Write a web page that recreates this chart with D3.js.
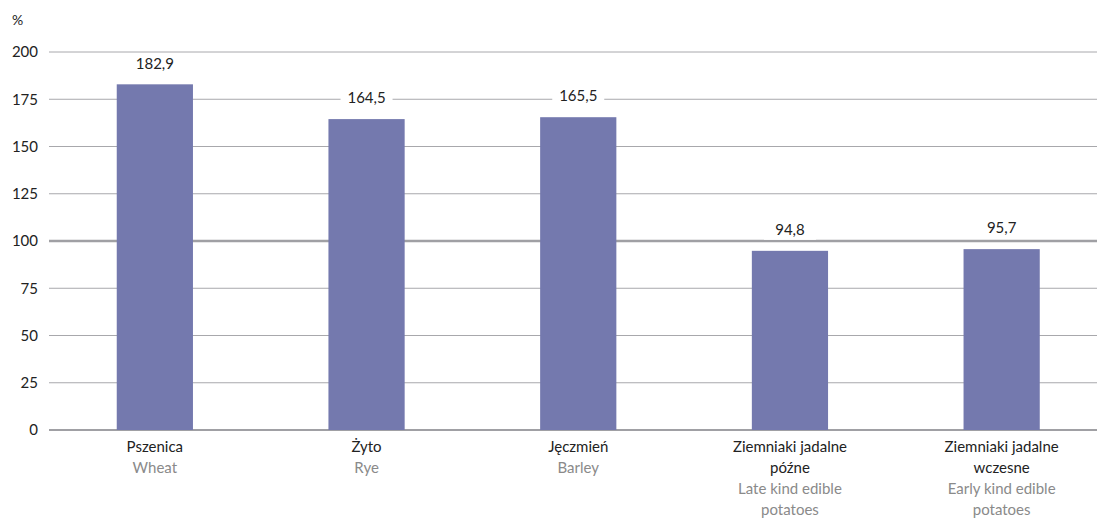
<!DOCTYPE html>
<html>
<head>
<meta charset="utf-8">
<script src="https://cdn.jsdelivr.net/npm/d3@7"></script>
<style>
  body { margin: 0; background: #fff; }
  svg { font-family: Lato, "Open Sans", sans-serif; }
</style>
</head>
<body>
<script>
// data
var namesPl = [["Pszenica"], ["Żyto"], ["Jęczmień"], ["Ziemniaki jadalne", "późne"], ["Ziemniaki jadalne", "wczesne"]];
var namesEn = [["Wheat"], ["Rye"], ["Barley"], ["Late kind edible", "potatoes"], ["Early kind edible", "potatoes"]];
var values = [182.9, 164.5, 165.5, 94.8, 95.7];
var yTicks = [0, 25, 50, 75, 100, 125, 150, 175, 200];

var W = 1097, H = 531;
var margin = {top: 52, left: 49, bottom: 101};

var svg = d3.select("body").append("svg")
    .attr("width", W)
    .attr("height", H);

var idx = d3.range(values.length);
var x = d3.scaleBand().domain(idx).range([49, 1107.5])
    .paddingInner(0.64).paddingOuter(0.32);
var y = d3.scaleLinear().domain([0, 200]).range([430, 52]);

// gridlines
svg.append("g").selectAll("line")
    .data(yTicks)
  .enter().append("line")
    .attr("x1", margin.left)
    .attr("x2", W)
    .attr("y1", function(d) { return y(d); })
    .attr("y2", function(d) { return y(d); })
    .attr("stroke", function(d) { return d == 100 || d == 0 ? "#a0a0a4" : "#a8a8ac"; })
    .attr("stroke-width", function(d) { return d == 100 ? 2.5 : (d == 0 ? 2 : 1); });

// y tick labels
svg.append("g").selectAll("text")
    .data(yTicks)
  .enter().append("text")
    .attr("x", 38)
    .attr("y", function(d) { return y(d); })
    .attr("dy", "0.35em")
    .attr("text-anchor", "end")
    .attr("font-size", 15)
    .attr("fill", "#222")
    .text(function(d) { return d; });

svg.append("text")
    .attr("x", 12)
    .attr("y", 25)
    .attr("font-size", 14)
    .attr("fill", "#222")
    .text("%");

// bars
svg.append("g").selectAll("rect")
    .data(idx)
  .enter().append("rect")
    .attr("x", function(i) { return x(i); })
    .attr("width", x.bandwidth())
    .attr("y", function(i) { return y(values[i]); })
    .attr("height", function(i) { return y(0) - y(values[i]); })
    .attr("fill", "#7479ae");

// value labels with white backing
var fmt = function(v) { return d3.format(".1f")(v).replace(".", ","); };
var vl = svg.append("g").selectAll("g")
    .data(idx)
  .enter().append("g")
    .attr("transform", function(i) {
      return "translate(" + (x(i) + x.bandwidth() / 2) + "," + (y(values[i]) - 21) + ")";
    });
vl.append("rect")
    .attr("x", -26).attr("y", -10)
    .attr("width", 52).attr("height", 20)
    .attr("fill", "#fff");
vl.append("text")
    .attr("text-anchor", "middle")
    .attr("dy", "0.35em")
    .attr("font-size", 15)
    .attr("fill", "#222")
    .text(function(i) { return fmt(values[i]); });

// category labels
var cl = svg.append("g").selectAll("text")
    .data(idx)
  .enter().append("text")
    .attr("text-anchor", "middle")
    .attr("font-size", 15);
cl.each(function(i) {
  var t = d3.select(this);
  var cx = x(i) + x.bandwidth() / 2;
  var lines = namesPl[i].map(function(s) { return {s: s, c: "#222"}; })
    .concat(namesEn[i].map(function(s) { return {s: s, c: "#8a8a8a"}; }));
  lines.forEach(function(l, k) {
    t.append("tspan")
      .attr("x", cx)
      .attr("y", 452 + k * 21)
      .attr("fill", l.c)
      .text(l.s);
  });
});
</script>
</body>
</html>
